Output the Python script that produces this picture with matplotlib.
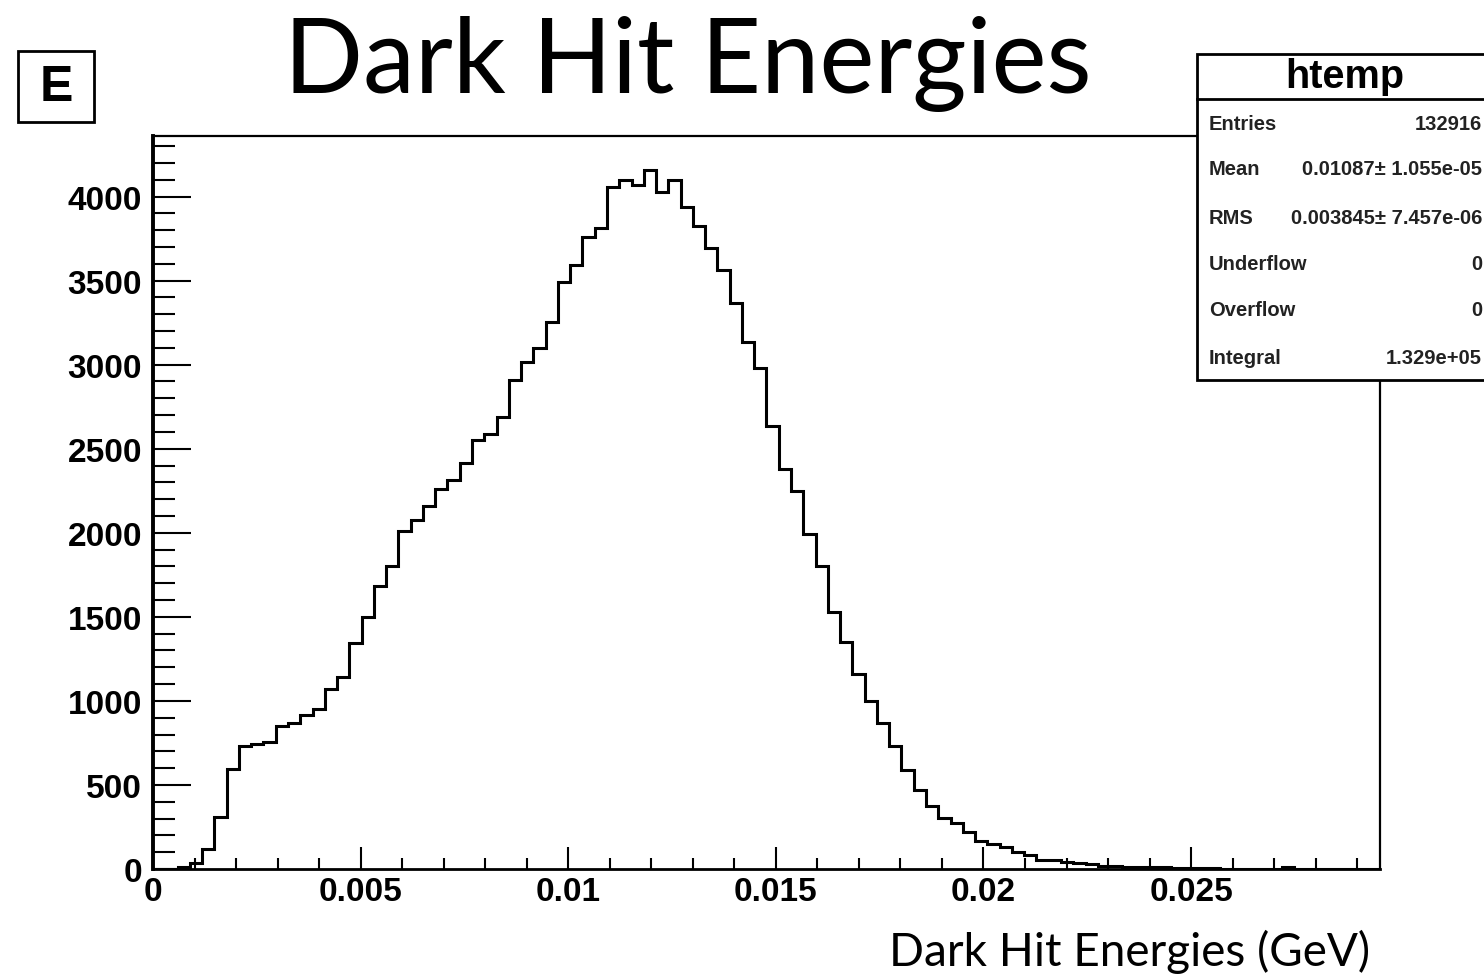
import numpy as np
import matplotlib
matplotlib.use('Agg')
import matplotlib.pyplot as plt
from matplotlib.patches import Rectangle
from matplotlib.lines import Line2D

# histogram contents, 100 bins from 0 to x_max (GeV)
x_max = 0.02955
counts = [0, 0, 12, 35, 119, 310, 595, 732, 745, 755,
          851, 869, 917, 952, 1071, 1143, 1345, 1500, 1685, 1804,
          2012, 2077, 2160, 2262, 2315, 2417, 2553, 2589, 2690, 2911,
          3018, 3101, 3256, 3494, 3595, 3762, 3815, 4054, 4101, 4071,
          4155, 4024, 4101, 3935, 3827, 3696, 3560, 3369, 3137, 2982,
          2637, 2381, 2250, 1994, 1804, 1530, 1351, 1161, 1000, 869,
          732, 589, 470, 375, 304, 274, 220, 167, 149, 131,
          101, 83, 56, 52, 40, 34, 30, 18, 15, 12,
          11, 10, 9, 8, 7, 6, 5, 2, 1, 1,
          0, 0, 10, 0, 0, 0, 0, 0, 0, 0]

x_ticks = [0, 0.005, 0.01, 0.015, 0.02, 0.025]
x_tick_labels = ['0', '0.005', '0.01', '0.015', '0.02', '0.025']
y_ticks = [0, 500, 1000, 1500, 2000, 2500, 3000, 3500, 4000]

stat_names = ['Entries', 'Mean', 'RMS', 'Underflow', 'Overflow', 'Integral']
stat_values = ['132916', '0.01087\u00b1 1.055e-05', '0.003845\u00b1 7.457e-06',
               '0', '0', '1.329e+05']

W, H = 1484, 978
fig = plt.figure(figsize=(W / 100, H / 100), dpi=100)
ax = fig.add_axes([153 / W, 1 - 870 / H, (1380 - 153) / W, (870 - 137) / H])

edges = np.linspace(0, x_max, len(counts) + 1)
ax.stairs(counts, edges, color='black', lw=2.2)

ax.set_xlim(0, x_max)
ax.set_ylim(0, 4360)
ax.set_xticks(x_ticks)
ax.set_xticklabels(x_tick_labels)
ax.set_xticks(np.arange(0, x_max, 0.001), minor=True)
ax.set_yticks(y_ticks)
ax.set_yticks(np.arange(0, 4360, 100), minor=True)

tick_font = dict(family='Liberation Sans', weight='bold', size=24)
for lab in ax.get_xticklabels() + ax.get_yticklabels():
    lab.set_fontproperties(matplotlib.font_manager.FontProperties(**tick_font))

ax.tick_params(axis='x', which='major', direction='in', length=16, width=1.5, pad=5)
ax.tick_params(axis='x', which='minor', direction='in', length=8, width=1.5)
ax.tick_params(axis='y', which='major', direction='in', length=27, width=1.5, pad=8)
ax.tick_params(axis='y', which='minor', direction='in', length=16, width=1.5)
ax.spines['left'].set_linewidth(2.8)
ax.spines['bottom'].set_linewidth(2.0)
ax.spines['top'].set_linewidth(1.6)
ax.spines['right'].set_linewidth(1.6)

# slide title and axis label
fig.text(688 / W, 1 - 93 / H, 'Dark Hit Energies', family='Lato', size=75,
         ha='center', va='baseline')
fig.text(1370 / W, 1 - 966 / H, 'Dark Hit Energies (GeV)', family='Lato', size=33,
         ha='right', va='baseline')

# panel letter
fig.add_artist(Rectangle((18 / W, 1 - 123 / H), 76 / W, 71 / H, transform=fig.transFigure,
                         fc='white', ec='black', lw=2))
fig.text(56 / W, 1 - 88 / H, 'E', family='Liberation Sans', weight='bold', size=36,
         ha='center', va='center')

# stats box
box = Rectangle((1197 / W, 1 - 381 / H), 320 / W, 326 / H, transform=fig.transFigure,
                fc='white', ec='black', lw=2, zorder=5, clip_on=False)
fig.add_artist(box)
fig.add_artist(Line2D([1197 / W, 1], [1 - 100 / H] * 2, transform=fig.transFigure,
                      color='black', lw=2, zorder=6))
fig.text(1345 / W, 1 - 77 / H, 'htemp', family='Liberation Sans', weight='bold', size=28.5,
         ha='center', va='center', zorder=7)
row_y = [124, 170, 218, 264, 310, 358]
for name, val, y in zip(stat_names, stat_values, row_y):
    fig.text(1209 / W, 1 - y / H, name, family='Liberation Sans', weight='bold', size=14.5,
             ha='left', va='center', color='#222222', zorder=7)
    fig.text(1482 / W, 1 - y / H, val, family='Liberation Sans', weight='bold', size=14.5,
             ha='right', va='center', color='#222222', zorder=7)

fig.savefig('out.png', dpi=100)
